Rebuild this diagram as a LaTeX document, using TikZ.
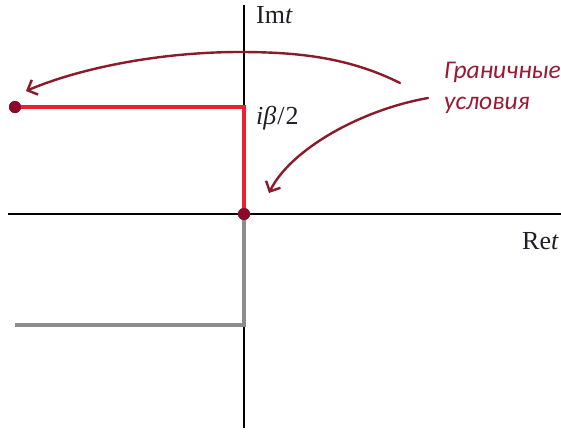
\documentclass[tikz,border=0pt]{standalone}
\usepackage{fontspec}
\setmainfont{Liberation Serif}
\newfontfamily\rusfont{Carlito}
\usetikzlibrary{arrows.meta}
\definecolor{redln}{HTML}{E8232B}
\definecolor{dotc}{HTML}{8B0A2A}
\definecolor{handc}{HTML}{8B1A2B}
\definecolor{grayln}{HTML}{8C8C8C}
\definecolor{rustext}{HTML}{9A1A32}
\definecolor{lbl}{HTML}{1E1E28}
\tikzset{
  axisln/.style={line width=2.6pt,black},
  redpath/.style={line width=3.6pt,redln},
  graypath/.style={line width=3.6pt,grayln},
  dotnode/.style={circle,fill=dotc,inner sep=0pt,minimum size=12pt},
  handarrow/.style={line width=2.4pt,handc,line cap=round,-{Straight Barb[length=8pt,width=16pt,line width=2.4pt]}},
  axlabel/.style={text=lbl,font=\fontsize{26}{30}\selectfont,inner sep=0pt},
  ruslabel/.style={text=rustext,font=\rusfont\itshape\fontsize{25.5}{31}\selectfont,inner sep=0pt,align=left}
}
\begin{document}
\begin{tikzpicture}[x=1pt,y=-1pt]
\useasboundingbox (0,0) rectangle (561,432);
\fill[white] (0,0) rectangle (561,432);
% axis endpoints
\coordinate (hl) at (8,214);
\coordinate (hr) at (561,214);
\coordinate (vt) at (244,5);
\coordinate (vb) at (244,428);
\coordinate (corner) at (244,107);
\coordinate (gcorner) at (244,325);
\coordinate (gend) at (15,325);
\draw[axisln] (hl) -- (hr);
\draw[axisln] (vt) -- (vb);
\node[dotnode] (dl) at (15,107) {};
\node[dotnode] (d0) at (244,214) {};
\draw[graypath] (d0.center) -- (gcorner) -- (gend);
\draw[redpath] (dl.center) -- (corner) -- (d0.center);
\node[dotnode] at (dl.center) {};
\node[dotnode] at (d0.center) {};
% labels
\node[axlabel,anchor=base west] (im) at (256,23) {Im\textit{t}};
\node[axlabel,anchor=base west] (re) at (522,249) {Re\textit{t}};
\node[axlabel,anchor=base west] (ib) at (256,124) {\textit{iβ}\kern1pt/\kern1pt2};
\node[ruslabel,anchor=base west] (g1) at (444,78) {Граничные};
\node[ruslabel,anchor=base west] (g2) at (444,109) {условия};
% hand arrows
\coordinate (a1s) at (400,83);
\coordinate (a1m) at (240,52);
\coordinate (a1e) at (26,91);
\coordinate (a2s) at (428,98);
\coordinate (a2e) at (269,193);
\draw[handarrow] (a1s) .. controls (350,58) and (300,52) .. (a1m) .. controls (160,52) and (80,68) .. (a1e);
\draw[handarrow] (a2s) .. controls (360,110) and (290,150) .. (a2e);
\end{tikzpicture}
\end{document}
